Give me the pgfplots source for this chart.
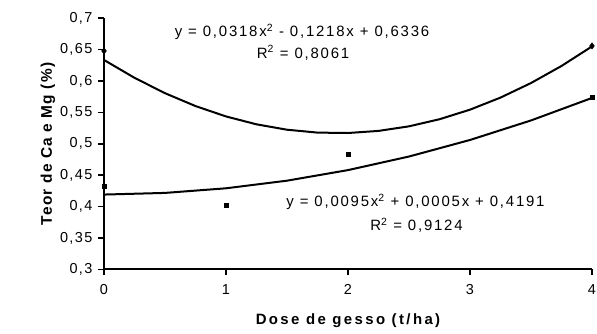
\documentclass[border=0pt]{standalone}
\usepackage{pgfplots}
\pgfplotsset{compat=1.18}
\usepackage{fontspec}
\setmainfont{Liberation Sans}
\newfontfamily\tickfont[LetterSpace=10]{Liberation Sans}
\newfontfamily\eqfont[LetterSpace=12]{Liberation Sans}
\newfontfamily\xlabfont[LetterSpace=16]{Liberation Sans}
\newfontfamily\ylabfont[LetterSpace=8]{Liberation Sans}
\begin{document}
\begin{tikzpicture}[x=1bp,y=1bp]
\path[use as bounding box] (0,0) rectangle (597,333);
\begin{axis}[
  at={(104bp,63.7bp)}, anchor=south west,
  width=488bp, height=251bp, scale only axis,
  xmin=0, xmax=4, ymin=0.3, ymax=0.7,
  axis x line=bottom, axis y line=left,
  axis line style={line width=2.2bp,-},
  xtick={0,1,2,3,4}, ytick={0.3,0.35,...,0.71},
  tick align=outside, major tick length=6bp,
  tick style={line width=1.6bp,black},
  /pgf/number format/assume math mode=true,
  /pgf/number format/use comma,
  yticklabel style={/pgf/number format/fixed,/pgf/number format/precision=2,font=\fontsize{14.5}{16}\tickfont, xshift=-2bp},
  xticklabel style={font=\fontsize{14.5}{16}\tickfont, yshift=-6bp},
  xlabel={\bfseries Dose de gesso (t/ha)},
  ylabel={\bfseries Teor de Ca e Mg (\%)},
  xlabel style={font=\fontsize{15}{16}\xlabfont, yshift=-12bp},
  ylabel style={font=\fontsize{15.5}{16}\ylabfont, yshift=-2bp},
  clip=false,
]
\addplot[black, line width=2bp] coordinates {
(0,0.6336) (0.25,0.60514) (0.5,0.58065) (0.75,0.56014) (1,0.5436) (1.25,0.53104) (1.5,0.52245) (1.75,0.51784) (2,0.5172) (2.25,0.52054) (2.5,0.52785) (2.75,0.53914) (3,0.5544) (3.25,0.57364) (3.5,0.59685) (3.75,0.62404) (4,0.6552)};
\addplot[black, line width=2bp] coordinates {
(0,0.4191) (0.5,0.42173) (1,0.4291) (1.5,0.44123) (2,0.4581) (2.5,0.47973) (3,0.5061) (3.5,0.53723) (4,0.5731)};
\addplot[only marks, mark=diamond*, mark size=3.2bp, black] coordinates {(0,0.648) (4,0.656)};
\addplot[only marks, mark=square*, mark size=2bp, black] coordinates {(0,0.433) (1,0.402) (2,0.484) (4,0.5735)};
\node[font=\fontsize{15}{16}\eqfont] at (axis cs:1.623,0.678) {y = 0,0318x\textsuperscript{2} - 0,1218x + 0,6336};
\node[font=\fontsize{15}{16}\eqfont] at (axis cs:1.631,0.645) {R\textsuperscript{2} = 0,8061};
\node[font=\fontsize{15}{16}\eqfont] at (axis cs:2.553,0.408) {y = 0,0095x\textsuperscript{2} + 0,0005x + 0,4191};
\node[font=\fontsize{15}{16}\eqfont] at (axis cs:2.561,0.3706) {R\textsuperscript{2} = 0,9124};
\end{axis}
\end{tikzpicture}
\end{document}
